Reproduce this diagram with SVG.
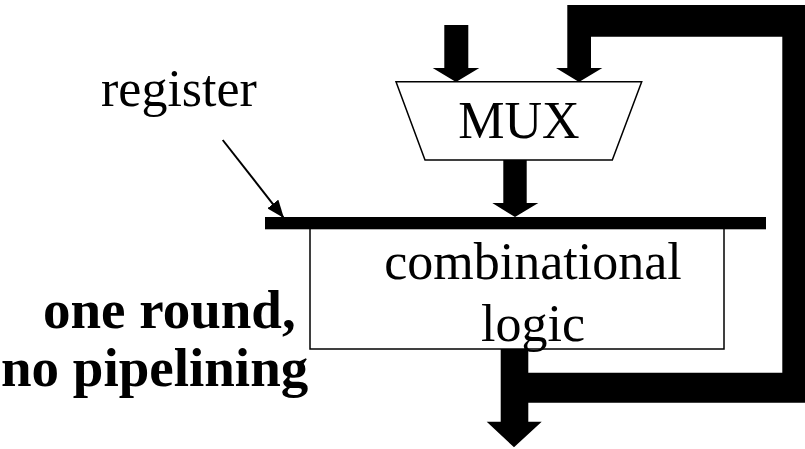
<svg xmlns="http://www.w3.org/2000/svg" width="805" height="449" viewBox="0 0 805 449">
<style>
.serif{font-family:"Liberation Serif","Times New Roman",serif;fill:#000}
.lbl{font-size:52px}
.bold{font-size:55px;font-weight:bold}
.outline{fill:#fff;stroke:#000;stroke-width:1.5}
.solid{fill:#000;stroke:none}
</style>
<defs>
<marker id="ah" markerWidth="18" markerHeight="14" refX="17" refY="7" orient="auto" markerUnits="userSpaceOnUse">
<path d="M0,0 L18,7 L0,14 Z" fill="#000"/>
</marker>
</defs>
<rect width="805" height="449" fill="#fff"/>
<g id="combinational-logic">
<rect class="outline" x="310" y="228" width="414" height="121"/>
<text class="serif lbl" x="533" y="279" text-anchor="middle">combinational</text>
<text class="serif lbl" x="533" y="341" text-anchor="middle">logic</text>
</g>
<g id="mux">
<polygon class="outline" points="396,81.7 641.7,81.7 612.3,160 425,160"/>
<text class="serif lbl" x="519" y="138" text-anchor="middle">MUX</text>
</g>
<g id="register">
<rect class="solid" x="265" y="217" width="501" height="12.3"/>
</g>
<g id="register-label">
<text class="serif lbl" x="101" y="105.5">register</text>
</g>
<g id="caption">
<text class="serif bold" x="43" y="328">one round,</text>
<text class="serif bold" x="1" y="386">no pipelining</text>
</g>
<g id="connectors">
<line x1="222.7" y1="140" x2="283.3" y2="217.3" stroke="#000" stroke-width="2" marker-end="url(#ah)"/>
<polygon class="solid" points="444.3,25 468.3,25 468.3,68 479.3,68 456,82 432.7,68 444.3,68"/>
<polygon class="solid" points="503.3,160 526.7,160 526.7,203 538.3,203 515,217 492.3,203 503.3,203"/>
<polygon class="solid" points="500.7,349 528.3,349 528.3,421.7 541.7,421.7 514,447.3 486.7,421.7 500.7,421.7"/>
<polygon class="solid" points="528,372.7 782.3,372.7 782.3,36.7 591,36.7 591,68 602.3,68 579,82 556,68 567.3,68 567.3,5 812,5 812,402.7 528,402.7"/>
</g>
</svg>
